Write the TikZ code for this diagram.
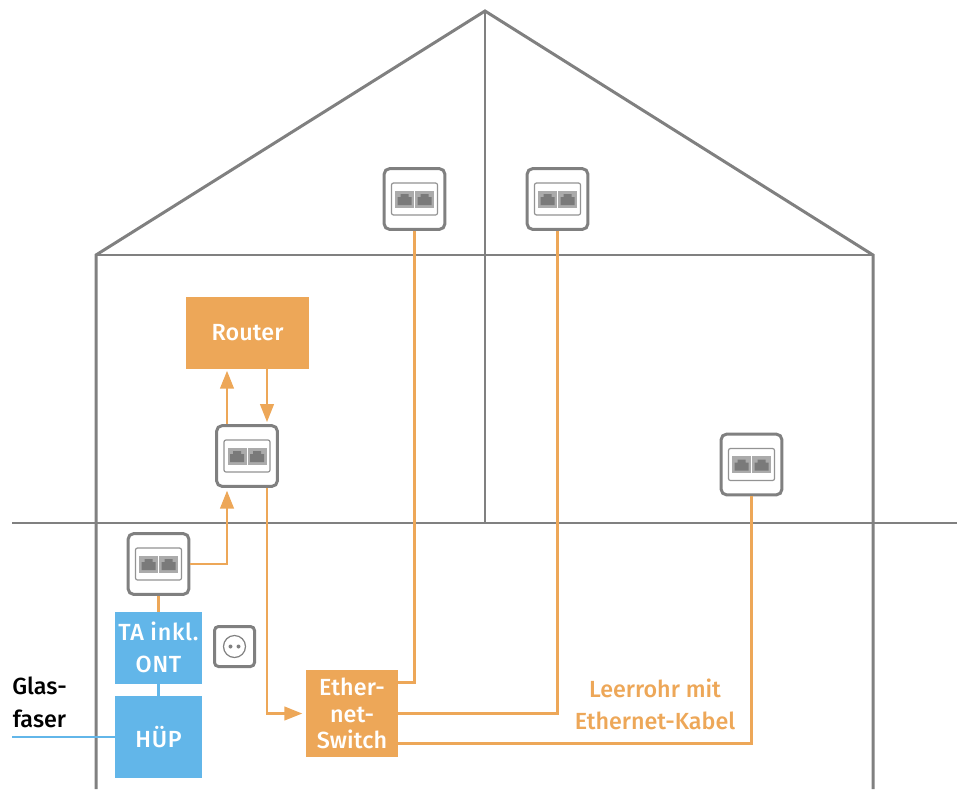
\documentclass[tikz,border=0pt]{standalone}
\usepackage{fontspec}
\setmainfont{Fira Sans}[BoldFont={Fira Sans Medium}]
\usetikzlibrary{arrows.meta}
\definecolor{wallgray}{HTML}{808080}
\definecolor{portlight}{HTML}{ABABAB}
\definecolor{portdark}{HTML}{7A7A7A}
\definecolor{cableorange}{HTML}{EDA758}
\definecolor{fiberblue}{HTML}{62B6E9}
\tikzset{
  x=0.75pt,y=-0.75pt,
  wall/.style={draw=wallgray,line width=2.25pt},
  thin wall/.style={draw=wallgray,line width=1pt},
  socketbox/.style={draw=wallgray,fill=white,line width=2.25pt,rounded corners=4pt,minimum width=45.5pt,minimum height=45.5pt,inner sep=0pt},
  outletbox/.style={draw=wallgray,fill=white,line width=2.25pt,rounded corners=3pt,minimum width=30pt,minimum height=30pt,inner sep=0pt},
  orangebox/.style={fill=cableorange,text=white,inner sep=0pt,align=center,font=\fontsize{17.5}{20}\selectfont\bfseries\addfontfeatures{LetterSpace=0.5}},
  bluebox/.style={fill=fiberblue,text=white,inner sep=0pt,align=center,font=\fontsize{17.5}{24}\selectfont\bfseries\addfontfeatures{LetterSpace=3}},
  cable/.style={draw=cableorange,line width=2.2pt},
  arrowcable/.style={cable,-{Triangle[length=13.5pt,width=10pt]}},
  fiber/.style={draw=fiberblue,line width=2pt},
  label/.style={inner sep=0pt,align=center,font=\fontsize{17.5}{24.75}\selectfont\bfseries}
}
\newcommand{\socketdetail}[1]{%
  \begin{scope}[shift={(#1.center)}]
    \draw[draw=wallgray!85,line width=0.9pt,rounded corners=1.5pt] (-23,-16) rectangle (23,16);
    \fill[portlight] (-19.5,-8.5) rectangle (-0.5,8.5);
    \fill[portlight] (0.5,-8.5) rectangle (19.5,8.5);
    \foreach \dx in {-10,10}{
      \fill[portdark] (\dx-7,6) -- (\dx-7,-2) -- (\dx-4,-2) -- (\dx-4,-5) -- (\dx+4,-5) -- (\dx+4,-2) -- (\dx+7,-2) -- (\dx+7,6) -- cycle;
    }
  \end{scope}}
\begin{document}
\begin{tikzpicture}
\useasboundingbox (0,0) rectangle (963,789);
% house
\draw[thin wall] (96,255) -- (873,255);
\draw[thin wall] (485,11) -- (485,523);
\draw[thin wall] (12,523) -- (957,523);
\draw[wall,line join=miter] (96,789) -- (96,255) -- (485,11) -- (873,255) -- (873,789);
% nodes
\node[socketbox] (s1) at (414.5,199) {};
\node[socketbox] (s2) at (557.5,199) {};
\node[socketbox] (s3) at (247,456) {};
\node[socketbox] (s4) at (751.5,464.5) {};
\node[socketbox] (s5) at (158.5,564) {};
\foreach \s in {s1,s2,s3,s4,s5}{\socketdetail{\s}}
\node[orangebox,minimum width=92.25pt,minimum height=54pt] (router) at (247.5,333) {\raisebox{-0.75pt}{Router}};
\node[orangebox,minimum width=69pt,minimum height=65.25pt] (switch) at (352,713.5) {\raisebox{-0.75pt}{Ether-}\\\raisebox{-0.75pt}{net-}\\\raisebox{-0.75pt}{Switch}};
\node[bluebox,minimum width=65.25pt,minimum height=54pt] (ta) at (158.5,648) {\raisebox{0.75pt}{TA inkl.}\\\raisebox{0.75pt}{ONT}};
\node[bluebox,minimum width=65.25pt,minimum height=61.5pt] (huep) at (158.5,737) {\raisebox{0.75pt}{HÜP}};
\node[outletbox] (outlet) at (234.5,646.5) {};
\draw[draw=wallgray,line width=0.9pt] (outlet.center) circle (11);
\fill[wallgray] (230.5,646.5) circle (2);
\fill[wallgray] (238.5,646.5) circle (2);
\node[label] (glas) at (39.5,702) {Glas-\\faser};
\node[label,text=cableorange,font=\fontsize{17.5}{24}\selectfont\bfseries] (leer) at (655,704) {Leerrohr mit\\Ethernet-Kabel};
\coordinate (fiberstart) at (12,737);
% connectors
\draw[fiber] (fiberstart) -- (huep.west);
\draw[fiber] (ta.south) -- (huep.north);
\draw[cable] (s5.south) -- (ta.north);
\draw[arrowcable] (s5.east) -| ([xshift=-15pt,yshift=-2pt]s3.south);
\draw[arrowcable] ([xshift=-15pt]s3.north) -- ([xshift=-15pt,yshift=-1pt]s3.north |- router.south);
\draw[arrowcable] ([xshift=15pt]s3.north |- router.south) -- ([xshift=15pt,yshift=1.5pt]s3.north);
\draw[arrowcable] ([xshift=15pt]s3.south) |- ([xshift=-2.5pt]switch.west);
\draw[cable] ([yshift=23.5pt]switch.east) -| (s1.south);
\draw[cable] (switch.east) -| (s2.south);
\draw[cable] ([yshift=-22.5pt]switch.east) -| (s4.south);
\end{tikzpicture}
\end{document}
